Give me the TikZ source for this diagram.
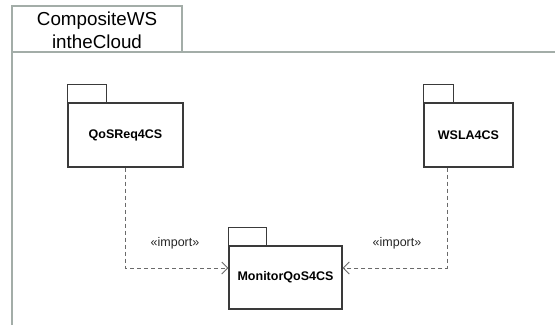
\documentclass[tikz,border=0pt]{standalone}
\usepackage{fontspec}
\setmainfont{Liberation Sans}
\usetikzlibrary{arrows.meta}
\definecolor{framec}{HTML}{A3ADA8}
\definecolor{pkgc}{HTML}{3A3A3A}
\definecolor{depc}{HTML}{6A6A6A}
\tikzset{
  pkgbody/.style={draw=pkgc,line width=1.1pt,fill=white,inner sep=0pt,font=\bfseries\fontsize{12.5}{15}\selectfont},
  pkgtab/.style={draw=pkgc,line width=1.1pt},
  importdep/.style={draw=depc,line width=1pt,dash pattern=on 4pt off 3pt,-{Straight Barb[length=6pt,width=12pt]}},
  stereo/.style={font=\fontsize{12.5}{15}\selectfont,text=black!85},
  framebox/.style={draw=framec,line width=1.1pt}
}
\begin{document}
\begin{tikzpicture}[x=1pt,y=-1pt]
\useasboundingbox (0,0) rectangle (555,325);
% frame
\draw[framebox] (12,325) -- (12,6) -- (182,6) -- (182,52);
\draw[framebox] (12,52) -- (555,52);
\node[font=\fontsize{18.8}{23}\selectfont,align=center] (title) at (97,30) {CompositeWS\\intheCloud};
% packages
\node[pkgbody,minimum width=115pt,minimum height=64pt] (q) at (125.5,135) {QoSReq4CS};
\draw[pkgtab] (q.north west) -- ++(0,-18) -- ++(39,0) -- ++(0,18);
\node[pkgbody,minimum width=89pt,minimum height=64pt] (w) at (468.5,135) {WSLA4CS};
\draw[pkgtab] (w.north west) -- ++(0,-18) -- ++(30,0) -- ++(0,18);
\node[pkgbody,minimum width=113pt,minimum height=63pt] (m) at (285.5,277.5) {MonitorQoS4CS};
\draw[pkgtab] (m.north west) -- ++(0,-18) -- ++(38,0) -- ++(0,18);
% dependencies
\draw[importdep] (q.south) |- ([yshift=9.5pt]m.west);
\draw[importdep] ([xshift=-21.5pt]w.south) |- ([yshift=9.5pt]m.east);
\node[stereo] (l1) at (175,243) {«import»};
\node[stereo] (l2) at (397,243) {«import»};
\end{tikzpicture}
\end{document}
